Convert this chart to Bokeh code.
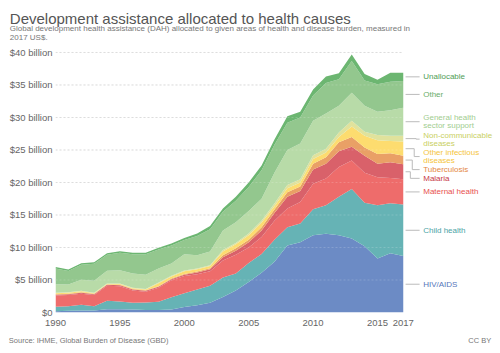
import numpy as np
from bokeh.plotting import figure
from bokeh.layouts import column
from bokeh.models import ColumnDataSource, Range1d, FixedTicker
from bokeh.core.properties import value
from bokeh.embed import file_html
from bokeh.resources import INLINE

# ---------------- data (billion 2017 US$) ----------------
years = list(range(1990, 2018))
hiv = [0.20,0.26,0.30,0.30,0.50,0.50,0.45,0.38,0.38,0.45,0.85,1.10,1.50,2.40,3.40,4.70,6.10,7.80,10.30,10.80,11.90,12.10,11.90,11.40,10.20,8.30,9.10,8.70]
child = [0.67,0.71,0.88,0.67,1.29,1.19,1.05,1.17,1.27,1.90,2.10,2.45,2.60,3.00,2.60,2.90,2.90,3.40,2.80,2.90,4.00,4.40,5.90,7.60,6.70,8.20,7.70,7.90]
maternal = [1.73,1.73,1.72,1.73,2.31,2.36,1.90,1.65,2.15,2.60,2.65,2.35,2.25,2.60,2.90,2.40,2.60,2.90,2.90,3.30,3.90,4.10,4.60,4.40,4.60,4.30,3.90,3.90]
malaria = [0.12,0.12,0.13,0.12,0.16,0.16,0.15,0.15,0.15,0.18,0.20,0.25,0.32,0.50,0.60,0.80,1.00,1.20,1.80,1.70,2.20,2.30,2.40,2.10,2.60,2.10,2.40,2.30]
tb = [0.08,0.08,0.07,0.08,0.06,0.07,0.07,0.07,0.10,0.09,0.12,0.15,0.13,0.30,0.40,0.40,0.50,0.55,0.70,0.70,0.90,1.00,1.40,1.50,1.30,1.50,1.40,1.30]
oid = [0.15,0.15,0.15,0.06,0.08,0.12,0.10,0.11,0.45,0.33,0.43,0.35,0.35,0.60,0.60,0.70,0.70,0.50,0.60,0.60,0.70,0.70,0.80,1.60,1.80,2.10,1.90,2.20]
ncd = [0.08,0.08,0.08,0.07,0.06,0.06,0.07,0.07,0.10,0.09,0.10,0.10,0.10,0.20,0.20,0.25,0.30,0.40,0.50,0.50,0.60,0.60,0.70,0.90,0.60,0.80,0.80,0.90]
ghss = [1.33,1.18,1.70,1.84,1.95,2.05,2.21,2.20,2.15,1.91,2.50,2.05,2.15,3.00,3.20,3.45,3.40,4.75,5.40,5.50,5.30,5.40,4.10,4.30,4.00,3.60,3.90,4.30]
other = [2.39,2.09,2.32,2.63,2.49,2.69,2.95,3.15,2.95,2.75,2.20,2.95,3.40,2.90,3.30,3.70,4.40,4.30,4.20,4.00,3.90,4.70,4.10,4.90,3.90,4.20,4.40,4.10]
unalloc = [0.25,0.22,0.24,0.24,0.23,0.24,0.25,0.25,0.25,0.30,0.30,0.40,0.50,0.50,0.60,0.70,0.70,0.80,1.00,0.90,0.90,1.00,0.90,1.00,1.00,0.70,1.40,1.30]

series_keys = ["hiv", "child", "maternal", "malaria", "tb", "oid", "ncd", "ghss", "other", "unalloc"]
series_labels = ["HIV/AIDS", "Child health", "Maternal health", "Malaria", "Tuberculosis",
                 "Other infectious\ndiseases", "Non-communicable\ndiseases",
                 "General health\nsector support", "Other", "Unallocable"]
x_ticks = [1990, 1995, 2000, 2005, 2010, 2015, 2017]
y_ticks = [0, 5, 10, 15, 20, 25, 30, 35, 40]
y_tick_labels = ["$0"] + [f"${v} billion" for v in y_ticks[1:]]

title = "Development assistance allocated to health causes"
subtitle_1 = "Global development health assistance (DAH) allocated to given areas of health and disease burden, measured in"
subtitle_2 = "2017 US$."
source_note = "Source: IHME, Global Burden of Disease (GBD)"
licence = "CC BY"

# ---------------- styles ----------------
fill_colors = ["#6c8bc5", "#66b3b5", "#ee6c6b", "#d9616a", "#e9a066",
               "#fddc6f", "#e0e29c", "#b8dba8", "#93c78e", "#6cb671"]
text_colors = ["#5676ba", "#4aa4a6", "#e8504e", "#c73a47", "#e4873f",
               "#f5c53c", "#c9cf62", "#9fcd90", "#6aae6a", "#4f9d56"]
FONT = "Liberation Sans"
W = 500


def no_align(f):
    try:
        f.frame_align = False
    except Exception:
        pass


def blank_fig(h):
    f = figure(width=W, height=h, output_backend="svg", toolbar_location=None, title=None,
               x_range=Range1d(0, W), y_range=Range1d(h, 0),
               x_axis_type=None, y_axis_type=None,
               min_border_left=0, min_border_right=0, min_border_top=0, min_border_bottom=0)
    f.outline_line_color = None
    f.xgrid.visible = False
    f.ygrid.visible = False
    f.background_fill_color = "white"
    f.border_fill_color = "white"
    no_align(f)
    return f


# ---------------- header ----------------
header = blank_fig(46)
header.text(x=[9.3], y=[18.3], text=[title], text_font=value(FONT), text_font_size="15px",
            text_color="#555555", text_baseline="alphabetic")
header.text(x=[9.3, 9.3], y=[28.0, 37.0], text=[subtitle_1, subtitle_2], text_font=value(FONT),
            text_font_size="8px", text_color="#777777", text_baseline="alphabetic")

# ---------------- main chart ----------------
data = dict(year=years, hiv=hiv, child=child, maternal=maternal, malaria=malaria, tb=tb,
            oid=oid, ncd=ncd, ghss=ghss, other=other, unalloc=unalloc)
src = ColumnDataSource(data)

p = figure(width=W, height=287, output_backend="svg", toolbar_location=None, title=None,
           x_range=Range1d(1990, 2024.55), y_range=Range1d(0, 40.92),
           min_border_left=55, min_border_right=0, min_border_top=0, min_border_bottom=21)
no_align(p)
p.outline_line_color = None
p.background_fill_color = "white"
p.border_fill_color = "white"
p.xgrid.visible = False
p.ygrid.visible = False

gy = y_ticks[1:]
p.segment(x0=[years[0]] * len(gy), x1=[years[-1]] * len(gy), y0=gy, y1=gy,
          line_color="#d6d6d6", line_dash="2 2", line_width=1)

p.varea_stack(stackers=series_keys, x="year", color=fill_colors, source=src)

p.segment(x0=[years[0]] * len(gy), x1=[years[-1]] * len(gy), y0=gy, y1=gy,
          line_color="#ffffff", line_alpha=0.18, line_dash="2 2", line_width=1)

xa = p.xaxis[0]
xa.ticker = FixedTicker(ticks=x_ticks)
xa.axis_line_color = None
xa.major_tick_line_color = None
xa.minor_tick_line_color = None
xa.major_tick_out = 0
xa.major_tick_in = 0
xa.minor_tick_out = 0
xa.major_label_standoff = 7
xa.major_label_text_font = FONT
xa.major_label_text_font_size = "9.5px"
xa.major_label_text_color = "#666666"

ya = p.yaxis[0]
ya.ticker = FixedTicker(ticks=y_ticks)
ya.major_label_overrides = {t: l for t, l in zip(y_ticks, y_tick_labels)}
ya.axis_line_color = None
ya.major_tick_line_color = None
ya.minor_tick_line_color = None
ya.major_tick_out = 0
ya.major_tick_in = 0
ya.minor_tick_out = 0
ya.major_label_standoff = 3
ya.major_label_text_font = FONT
ya.major_label_text_font_size = "9.5px"
ya.major_label_text_color = "#666666"

# end-of-series labels with simple collision avoidance
last = np.array([data[k][-1] for k in series_keys])
tops = np.cumsum(last)
mids = tops - last / 2.0
nlines = [lab.count("\n") + 1 for lab in series_labels]
line_h = 1.34
placed = [0.0] * len(series_keys)
prev_bottom = None
for i in reversed(range(len(series_keys))):
    h = nlines[i] * line_h
    top = mids[i] + h / 2.0
    if prev_bottom is not None and top > prev_bottom:
        top = prev_bottom
    placed[i] = top - h / 2.0
    prev_bottom = top - h

x_start, x_end, x_text = 2017.18, 2018.27, 2018.55
lx, ly = [], []
k = 0
for i in reversed(range(len(series_keys))):
    if abs(placed[i] - mids[i]) < 0.05:
        lx.append([x_start, x_end]); ly.append([mids[i], mids[i]])
    else:
        xe = 2018.0 - 0.15 * k
        k += 1
        lx.append([x_start, xe, xe, x_end]); ly.append([mids[i], mids[i], placed[i], placed[i]])
p.multi_line(xs=lx, ys=ly, line_color="#bbbbbb", line_width=1)

p.text(x=[x_text] * len(series_keys), y=placed, text=series_labels, text_color=text_colors,
       text_font=value(FONT), text_font_size="8px", text_baseline="middle",
       text_align="left", text_line_height=0.9)

# ---------------- footer ----------------
footer = blank_fig(20)
footer.text(x=[8.3], y=[6.8], text=[source_note], text_font=value(FONT), text_font_size="7.5px",
            text_color="#777777", text_baseline="alphabetic", text_align="left")
footer.text(x=[490.7], y=[6.8], text=[licence], text_font=value(FONT), text_font_size="7.5px",
            text_color="#777777", text_baseline="alphabetic", text_align="right")

layout = column(header, p, footer, spacing=0)
open("out.html", "w").write(file_html(layout, INLINE))
